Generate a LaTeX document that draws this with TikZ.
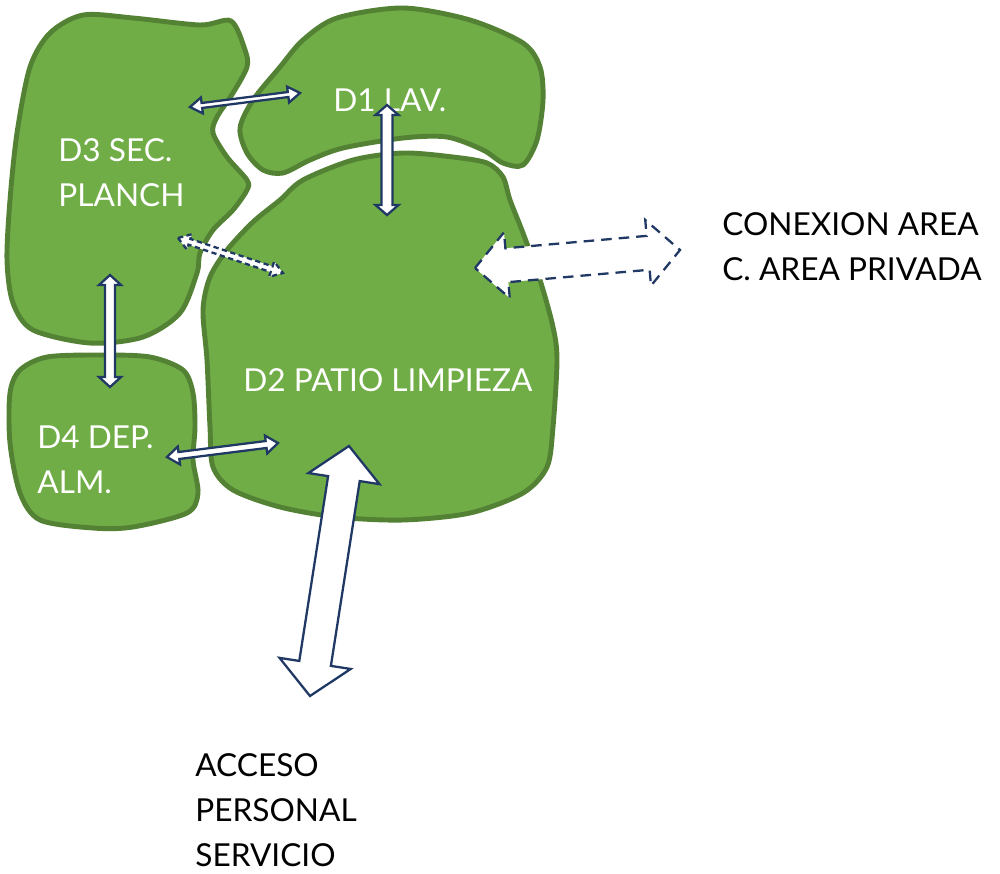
\documentclass[tikz,border=0pt]{standalone}
\usepackage{fontspec}
\setmainfont{Lato}
\usepackage{tikz}
\usetikzlibrary{calc}
\definecolor{zonefill}{HTML}{70AD47}
\definecolor{zoneline}{HTML}{548235}
\definecolor{navy}{HTML}{203864}
\newcommand{\dblarrow}[6][]{%
  \draw[link,#1] (#2)
  -- ($(#2)!#6!(#3)!#5!90:(#3)$) -- ($(#2)!#6!(#3)!#4!90:(#3)$)
  -- ($(#3)!#6!(#2)!#4!-90:(#2)$) -- ($(#3)!#6!(#2)!#5!-90:(#2)$)
  -- (#3)
  -- ($(#3)!#6!(#2)!#5!90:(#2)$) -- ($(#3)!#6!(#2)!#4!90:(#2)$)
  -- ($(#2)!#6!(#3)!#4!-90:(#3)$) -- ($(#2)!#6!(#3)!#5!-90:(#3)$)
  -- cycle;}

\begin{document}
\begin{tikzpicture}[x=0.02cm,y=-0.02cm,
  zone/.style={draw=zoneline,line width=2.8pt,fill=zonefill},
  link/.style={draw=navy,line width=1.3pt,fill=white,line join=miter},
  dlink/.style={dash pattern=on 3pt off 2pt},
  lbl/.style={anchor=west,align=left,inner sep=0pt,font=\fontsize{18}{25.5}\selectfont},
  inlbl/.style={lbl,text=white}
]
\useasboundingbox (0,0) rectangle (1000,873);
\draw[zone] plot[smooth cycle] coordinates {(50,33) (83,15) (133,18) (200,25) (231,21) (245,50) (247,67) (233,93) (217,117) (213,133) (227,157) (247,180) (247,190) (233,210) (213,230) (200,253) (197,273) (180,313) (143,337) (90,343) (33,330) (13,303) (7,260) (10,200) (17,133) (30,67)};
\draw[zone] plot[smooth cycle] coordinates {(20,370) (47,357) (100,355) (150,357) (183,370) (193,393) (195,427) (193,460) (198,493) (187,513) (133,527) (93,528) (40,520) (20,493) (10,443) (10,393)};
\draw[zone] plot[smooth cycle] coordinates {(247,153) (240,128) (253,100) (280,67) (303,40) (337,18) (403,8) (470,20) (523,43) (540,67) (543,100) (537,140) (523,165) (503,163) (483,150) (447,137) (403,138) (343,148) (310,160) (283,173) (263,170)};
\draw[zone] plot[smooth cycle] coordinates {(203,310) (210,277) (227,250) (253,222) (280,200) (303,180) (353,160) (403,153) (453,157) (487,163) (503,177) (510,200) (523,233) (540,280) (553,327) (557,360) (553,427) (547,467) (523,493) (470,513) (403,520) (337,517) (280,507) (233,490) (213,467) (210,427) (207,360)};

\node[inlbl] (d1) at (333,100) {D1 LAV.};
\node[inlbl] (d3) at (58,173) {D3 SEC.\\PLANCH};
\node[inlbl] (d2) at (243,380) {D2 PATIO LIMPIEZA};
\node[inlbl] (d4) at (37,460) {D4 DEP.\\ALM.};
\node[lbl] (conexion) at (722,247) {CONEXION AREA\\C. AREA PRIVADA};
\node[lbl] (acceso) at (195,810) {ACCESO\\PERSONAL\\SERVICIO};

\coordinate (d3d1a) at (190,107);
\coordinate (d3d1b) at (300,93);
\coordinate (d1d2a) at (387,105);
\coordinate (d1d2b) at (387,215);
\coordinate (d3d2a) at (178,238);
\coordinate (d3d2b) at (283,273);
\coordinate (d3d4a) at (110,275);
\coordinate (d3d4b) at (110,387);
\coordinate (d4d2a) at (167,457);
\coordinate (d4d2b) at (278,443);
\coordinate (acca) at (349,446);
\coordinate (accb) at (310,696);
\coordinate (cona) at (475,268);
\coordinate (conb) at (680,250);

\dblarrow{d3d1a}{d3d1b}{0.5mm}{1.6mm}{2.4mm}
\dblarrow{d1d2a}{d1d2b}{1.1mm}{2.3mm}{2mm}
\dblarrow[dlink]{d3d2a}{d3d2b}{0.6mm}{1.6mm}{2.4mm}
\dblarrow{d3d4a}{d3d4b}{1mm}{2.2mm}{2mm}
\dblarrow{d4d2a}{d4d2b}{0.7mm}{1.8mm}{2.4mm}
\dblarrow{acca}{accb}{3.2mm}{7.2mm}{6.6mm}
\dblarrow[dash pattern=on 6pt off 4pt]{cona}{conb}{3.4mm}{6.6mm}{6.4mm}
\end{tikzpicture}
\end{document}
